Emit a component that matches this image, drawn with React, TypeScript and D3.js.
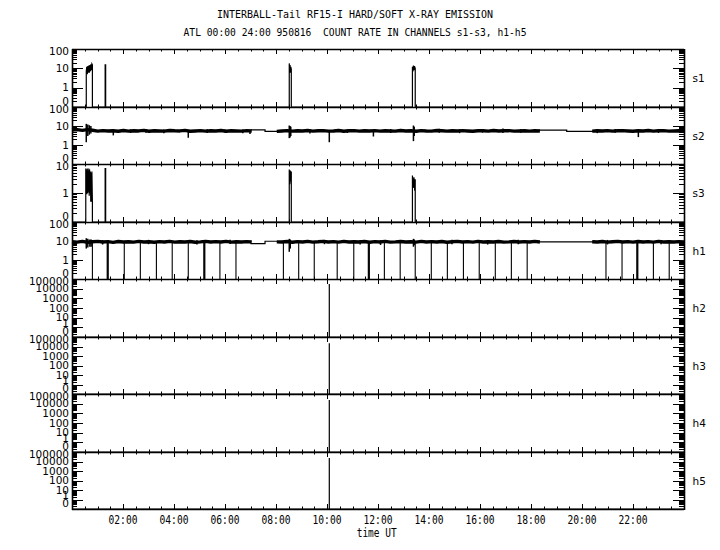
import React from "react";
import * as d3 from "d3";

const W = 720;
const H = 550;
const LEFT = 72;
const RIGHT = 684;
const TOP = 49;
const BOTTOM = 509;

const TITLE_1 = "INTERBALL-Tail RF15-I HARD/SOFT X-RAY EMISSION";
const TITLE_2 = "ATL 00:00 24:00 950816  COUNT RATE IN CHANNELS s1-s3, h1-h5";
const X_TITLE = "time UT";

const CHANNELS = ["s1", "s2", "s3", "h1", "h2", "h3", "h4", "h5"];
const TOP_EXP = [2, 2, 1, 2, 5, 5, 5, 5];
const Y_LABELS_3 = ["100", "10", "1", "0"];
const Y_LABELS_2 = ["10", "1", "0"];
const Y_LABELS_6 = ["100000", "10000", "1000", "100", "10", "1", "0"];
const Y_TICK_LABELS = [Y_LABELS_3, Y_LABELS_3, Y_LABELS_2, Y_LABELS_3, Y_LABELS_6, Y_LABELS_6, Y_LABELS_6, Y_LABELS_6];

const X_TICK_HOURS = [2, 4, 6, 8, 10, 12, 14, 16, 18, 20, 22];
const X_TICK_LABELS = ["02:00", "04:00", "06:00", "08:00", "10:00", "12:00", "14:00", "16:00", "18:00", "20:00", "22:00"];

// s1 (counts, 0 = none)
const S1_T = [0, 0.56, 0.56, 0.58, 0.60, 0.62, 0.64, 0.66, 0.68, 0.70, 0.72, 0.74, 0.76, 0.78, 0.80, 0.80, 1.30, 1.30, 1.32, 1.32, 8.52, 8.52, 8.535, 8.55, 8.565, 8.58, 8.60, 8.60, 13.35, 13.35, 13.37, 13.39, 13.41, 13.43, 13.46, 13.46, 24];
const S1_V = [0, 0, 7, 12, 5, 13, 6, 14, 6, 15, 7, 16, 8, 17, 15, 0, 0, 15, 15, 0, 0, 18, 7, 15, 6, 12, 9, 0, 0, 12, 7, 14, 8, 13, 10, 0, 0];

// s3
const S3_T = [0, 0.54, 0.54, 0.555, 0.57, 0.585, 0.60, 0.615, 0.63, 0.645, 0.66, 0.675, 0.69, 0.705, 0.72, 0.735, 0.75, 0.765, 0.78, 0.80, 0.80, 1.30, 1.30, 1.32, 1.32, 8.52, 8.52, 8.54, 8.56, 8.58, 8.60, 8.60, 13.35, 13.35, 13.38, 13.41, 13.44, 13.46, 13.46, 24];
const S3_V = [0, 0, 7, 1, 6.5, 0.9, 7, 1, 6, 1.1, 7, 0.8, 6.5, 1, 5.5, 0.5, 5, 0.5, 5.5, 0.5, 0, 0, 7, 7, 0, 0, 6.5, 2, 6, 2.5, 5.5, 0, 0, 4, 1.5, 3.5, 1.2, 3, 0, 0];

// s2 band (segments with data), gaps and spikes
const BAND_SEGMENTS = [[0, 7.05], [8.03, 18.35], [20.4, 24]];
const S2_BAND_A = [6.2, 6.5, 5.9, 6.4, 6.0, 5.4, 5.7, 5.5, 5.6, 5.3, 5.8, 5.4, 5.6, 5.5, 5.9, 5.3, 5.6, 5.5, 5.4, 5.8, 5.6, 5.5, 5.9, 5.3, 5.5, 5.7, 5.4, 5.6, 5.5, 5.8, 5.3, 5.6, 5.5, 5.4, 5.7, 5.5];
const S2_BAND_B = [5.2, 5.5, 5.7, 5.4, 5.6, 5.5, 5.8, 5.4, 5.6, 5.7, 5.4, 5.5, 5.8, 5.3, 5.6, 5.7, 5.4, 5.6, 5.5, 5.7, 5.4, 5.6, 5.5, 5.4, 5.8, 5.5, 5.6, 5.3, 5.7, 5.5, 5.4, 5.8, 5.6, 5.4, 5.6, 5.5, 5.7, 5.5, 5.3, 5.6, 5.6, 5.4, 5.8, 5.5, 5.6, 5.7, 5.4, 5.5, 5.6, 5.4, 5.6, 5.5];
const S2_BAND_C = [5.4, 5.6, 5.5, 5.7, 5.4, 5.6, 5.7, 5.5, 5.3, 5.6, 5.5, 5.8, 5.4, 5.6, 5.7, 5.4, 5.5, 5.6, 5.5];
const S2_GAPS: [number, number][][] = [
  [[7.0, 6.3], [7.57, 6.3], [7.57, 5.2], [8.05, 5.2]],
  [[18.3, 6.0], [19.4, 6.0], [19.4, 5.2], [20.45, 5.2]],
];
const S2_SPIKES = [
  [0.56, 1.4, 13], [0.62, 3, 12], [0.68, 3.5, 11], [0.74, 4, 10], [1.62, 3.2, 6], [2.3, 4.3, 6.6], [2.9, 4.4, 7],
  [3.6, 4.2, 6.5], [4.56, 2.4, 6], [5.3, 4.3, 6.8], [6.0, 4.5, 6.6], [6.7, 4.2, 6.5], [6.98, 3.8, 6.2],
  [8.52, 2.3, 10.6], [8.55, 2.5, 10], [8.58, 3, 9], [9.33, 4.0, 6.8], [10.09, 1.4, 6], [10.8, 4.3, 6.6],
  [11.82, 2.8, 6], [12.5, 4.3, 7], [13.39, 1.6, 10.6], [13.42, 3, 9], [14.4, 4.4, 7.2], [15.2, 4.2, 6.6],
  [16.1, 4.5, 6.8], [16.9, 4.3, 7.3], [17.6, 4.4, 6.7], [20.6, 4.2, 6.7], [21.3, 4.4, 7], [22.21, 2.6, 6], [23.0, 4.3, 6.9],
];

// h1 band, gaps, spikes and drop-outs to zero
const H1_BAND_A = [9.2, 8.7, 9.5, 8.6, 9.1, 9.6, 8.8, 9.3, 8.5, 9.4, 8.9, 9.1, 8.7, 9.5, 8.8, 9.2, 8.6, 9.3, 8.8, 9.6, 8.7, 9.1, 8.9, 9.4, 8.6, 9.0, 9.5, 8.8, 9.3, 8.9, 9.5, 8.7, 9.2, 8.8, 9.3, 8.9];
const H1_BAND_B = [9.0, 8.8, 9.4, 8.6, 9.3, 8.9, 9.5, 8.7, 9.1, 9.6, 8.8, 9.3, 8.7, 9.6, 8.9, 9.2, 8.8, 9.4, 8.6, 9.3, 8.9, 9.5, 8.7, 9.0, 9.4, 8.8, 9.2, 8.7, 9.5, 8.9, 9.3, 8.8, 9.4, 8.6, 9.1, 9.5, 8.9, 9.3, 8.7, 9.6, 8.8, 9.2, 8.9, 9.4, 8.7, 9.0, 9.4, 8.8, 9.3, 8.9, 9.5, 8.8];
const H1_BAND_C = [9.1, 8.8, 9.4, 8.7, 9.2, 9.5, 8.8, 9.3, 8.7, 9.4, 8.9, 9.3, 8.7, 9.5, 8.9, 9.1, 8.8, 9.3, 9.0];
const H1_GAPS: [number, number][][] = [
  [[7.0, 7.3], [7.57, 7.3], [7.57, 9.7], [8.05, 9.7]],
  [[18.3, 8.9], [20.45, 8.9]],
];
const H1_SPIKES = [
  [0.56, 4, 14], [0.62, 4.5, 13], [0.70, 5, 12], [0.75, 5, 12], [1.2, 6.5, 11], [3.0, 6.8, 11.5], [4.9, 6.6, 11],
  [6.2, 7, 11.5], [8.52, 2.7, 13], [8.56, 4, 12], [9.9, 6.8, 11.5], [11.3, 6.6, 11.2], [12.1, 6.2, 11],
  [13.39, 5, 13], [13.42, 6, 12], [14.9, 6.8, 11.6], [16.3, 6.5, 11.2], [17.5, 6.8, 11.5], [21.0, 6.6, 11.4], [23.1, 6.7, 11.3],
];
const H1_DROPS = [0.80, 1.38, 1.40, 1.42, 2.05, 2.68, 3.31, 3.93, 4.56, 5.17, 5.19, 5.21, 5.80, 6.43, 8.29, 8.89, 9.50, 10.40, 11.05, 11.62, 11.64, 11.66, 12.25, 12.87, 13.46, 14.09, 14.72, 15.35, 15.97, 16.60, 17.23, 17.85, 20.94, 21.57, 22.15, 22.17, 22.19, 22.80, 23.42];
const H1_DROP_LEVEL = 9;

// h2-h5: zero except one spike
const HX_T = [0, 10.09, 10.09, 10.09, 24];
const H2_V = [0, 0, 30000, 0, 0];
const H3_V = [0, 0, 22000, 0, 0];
const H4_V = [0, 0, 24000, 0, 0];
const H5_V = [0, 0, 24000, 0, 0];

const MONO = "'DejaVu Sans Mono', monospace";
const SANS = "'DejaVu Sans', sans-serif";

function segPoints(seg: number[], vals: number[]): [number, number][] {
  const [t0, t1] = seg;
  return vals.map((v, j) => [t0 + ((t1 - t0) * j) / (vals.length - 1), v]);
}

export default function App() {
  const x = d3.scaleLinear().domain([0, 24]).range([LEFT, RIGHT]);
  const ph = (BOTTOM - TOP) / CHANNELS.length;

  const panels = CHANNELS.map((name, i) => {
    const top = Math.round(TOP + i * ph);
    const bottom = Math.round(TOP + (i + 1) * ph);
    const y = d3.scaleLog().domain([0.1, Math.pow(10, TOP_EXP[i])]).range([bottom, top]).clamp(true);
    return { name, i, top, bottom, y };
  });

  const yv = (y: d3.ScaleLogarithmic<number, number>, v: number) => y(v <= 0 ? 0.1 : v);
  const mkLine = (y: d3.ScaleLogarithmic<number, number>) =>
    d3.line<[number, number]>().x((d) => x(d[0])).y((d) => yv(y, d[1]));

  const minorHours = d3.range(0.5, 24, 0.5);

  const elements: React.ReactNode[] = [];

  panels.forEach((p) => {
    const { i, top, bottom, y } = p;
    const line = mkLine(y);
    if (p.name === "s1" || p.name === "s3") {
      const T = p.name === "s1" ? S1_T : S3_T;
      const V = p.name === "s1" ? S1_V : S3_V;
      const pts = T.map((t, j) => [t, V[j]] as [number, number]);
      elements.push(<path key={`d${i}`} d={line(pts) || ""} fill="none" stroke="#000" strokeWidth={1.2} />);
    } else if (p.name === "s2" || p.name === "h1") {
      const bands = p.name === "s2" ? [S2_BAND_A, S2_BAND_B, S2_BAND_C] : [H1_BAND_A, H1_BAND_B, H1_BAND_C];
      const gaps = p.name === "s2" ? S2_GAPS : H1_GAPS;
      const spikes = p.name === "s2" ? S2_SPIKES : H1_SPIKES;
      bands.forEach((b, k) => {
        elements.push(
          <path key={`b${i}-${k}`} d={line(segPoints(BAND_SEGMENTS[k], b)) || ""} fill="none" stroke="#000" strokeWidth={3.4} strokeLinejoin="bevel" />
        );
      });
      gaps.forEach((g, k) => {
        elements.push(<path key={`g${i}-${k}`} d={line(g) || ""} fill="none" stroke="#000" strokeWidth={1.2} />);
      });
      spikes.forEach((s, k) => {
        elements.push(
          <line key={`sp${i}-${k}`} x1={x(s[0])} x2={x(s[0])} y1={yv(y, s[1])} y2={yv(y, s[2])} stroke="#000" strokeWidth={1.5} />
        );
      });
      if (p.name === "h1") {
        H1_DROPS.forEach((t, k) => {
          elements.push(
            <line key={`dr${k}`} x1={x(t)} x2={x(t)} y1={yv(y, H1_DROP_LEVEL)} y2={yv(y, 0)} stroke="#000" strokeWidth={1.1} />
          );
        });
      }
    } else {
      const V = p.name === "h2" ? H2_V : p.name === "h3" ? H3_V : p.name === "h4" ? H4_V : H5_V;
      const pts = HX_T.map((t, j) => [t, V[j]] as [number, number]);
      elements.push(<path key={`d${i}`} d={line(pts) || ""} fill="none" stroke="#000" strokeWidth={1.2} />);
    }

    const te = TOP_EXP[i];
    for (let e = -1; e < te; e++) {
      for (let k = 1; k <= 9; k++) {
        const v = k * Math.pow(10, e);
        const yy = Math.round(y(v)) + 0.5;
        const len = k === 1 ? 11 : 5;
        elements.push(<line key={`yl${i}-${e}-${k}`} x1={LEFT} x2={LEFT + len} y1={yy} y2={yy} stroke="#000" strokeWidth={1} />);
        elements.push(<line key={`yr${i}-${e}-${k}`} x1={RIGHT} x2={RIGHT - len} y1={yy} y2={yy} stroke="#000" strokeWidth={1} />);
      }
    }
    const labels = Y_TICK_LABELS[i];
    labels.forEach((lab, j) => {
      const isZero = j === labels.length - 1;
      const v = isZero ? 0.1 : Math.pow(10, te - j);
      let yy = y(v);
      if (j === 0) yy += 2;
      if (isZero) yy -= 6;
      if (labels.length > 4 && j === labels.length - 2) yy -= 4;
      elements.push(
        <text key={`lab${i}-${j}`} x={69} y={yy + 3.8} textAnchor="end" fontFamily={SANS} fontSize={10.5} fill="#000">
          {lab}
        </text>
      );
    });

    minorHours.forEach((h, k) => {
      const major = Math.abs(h / 2 - Math.round(h / 2)) < 1e-6;
      const len = major ? 5 : 2.5;
      const xx = Math.round(x(h)) + 0.5;
      elements.push(<line key={`xt${i}-${k}`} x1={xx} x2={xx} y1={top} y2={top + len} stroke="#000" strokeWidth={1} />);
      elements.push(<line key={`xb${i}-${k}`} x1={xx} x2={xx} y1={bottom} y2={bottom - len} stroke="#000" strokeWidth={1} />);
    });

    elements.push(
      <text key={`cn${i}`} x={692.5} y={(top + bottom) / 2 + 4} fontFamily={SANS} fontSize={10.5} fill="#000">
        {p.name}
      </text>
    );
  });

  const frame: React.ReactNode[] = [];
  panels.forEach((p) => {
    frame.push(<line key={`hf${p.i}`} x1={LEFT} x2={RIGHT} y1={p.top + 0.5} y2={p.top + 0.5} stroke="#000" strokeWidth={1.6} />);
  });
  frame.push(<line key="hfb" x1={LEFT} x2={RIGHT} y1={BOTTOM + 0.5} y2={BOTTOM + 0.5} stroke="#000" strokeWidth={1.6} />);
  frame.push(<line key="vl" x1={LEFT + 0.5} x2={LEFT + 0.5} y1={TOP} y2={BOTTOM + 1} stroke="#000" strokeWidth={1.6} />);
  frame.push(<line key="vr" x1={RIGHT + 0.5} x2={RIGHT + 0.5} y1={TOP} y2={BOTTOM + 1} stroke="#000" strokeWidth={1.6} />);

  return (
    <svg width={W} height={H} style={{ position: "absolute", left: 0, top: 0, background: "#fff" }}>
      <rect width={W} height={H} fill="#fff" />
      <text x={355} y={18} textAnchor="middle" fontFamily={MONO} fontSize={11} textLength={276} lengthAdjust="spacingAndGlyphs" fill="#000">
        {TITLE_1}
      </text>
      <text x={355} y={36} textAnchor="middle" fontFamily={MONO} fontSize={11} textLength={343} lengthAdjust="spacingAndGlyphs" fill="#000" style={{ whiteSpace: "pre" }}>
        {TITLE_2}
      </text>
      {elements}
      {frame}
      {X_TICK_HOURS.map((h, k) => (
        <text key={`xl${k}`} x={x(h)} y={523.5} textAnchor="middle" fontFamily={MONO} fontSize={11.5} textLength={29} lengthAdjust="spacingAndGlyphs" fill="#000">
          {X_TICK_LABELS[k]}
        </text>
      ))}
      <text x={376.7} y={537} textAnchor="middle" fontFamily={MONO} fontSize={11.5} textLength={40} lengthAdjust="spacingAndGlyphs" fill="#000">
        {X_TITLE}
      </text>
    </svg>
  );
}
